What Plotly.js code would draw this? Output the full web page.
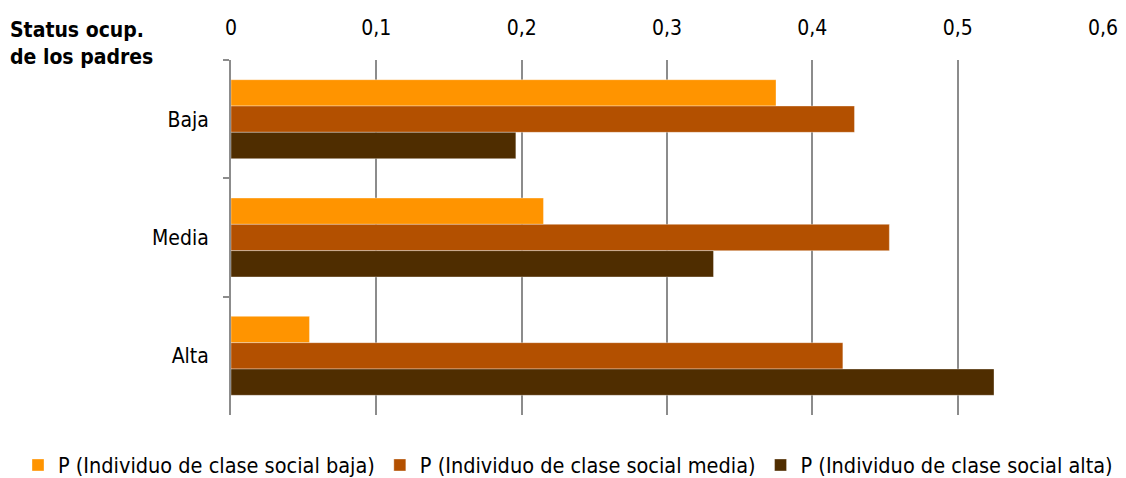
<!DOCTYPE html>
<html><head><meta charset="utf-8">
<script src="https://cdn.plot.ly/plotly-3.0.1.min.js"></script>
<style>body{margin:0;background:#fff}#c{width:1126px;height:478px}</style>
</head><body><div id="c"></div>
<script>
const categories = ["Baja", "Media", "Alta"];
const seriesNames = ["P (Individuo de clase social baja)", "P (Individuo de clase social media)", "P (Individuo de clase social alta)"];
const valBaja = [0.375, 0.215, 0.054];
const valMedia = [0.429, 0.453, 0.421];
const valAlta = [0.196, 0.332, 0.525];
const colors = ["#FF9400", "#B35000", "#4F2D00"];
const xTicks = [0, 0.1, 0.2, 0.3, 0.4, 0.5, 0.6];

const FONT = "'Liberation Sans Narrow', 'DejaVu Sans Condensed', 'Liberation Sans', Arial, sans-serif";
const allVals = [valBaja, valMedia, valAlta];
const traces = allVals.map((v, i) => ({
  type: "bar", orientation: "h", name: seriesNames[i],
  y: categories, x: v,
  marker: {color: colors[i], line: {color: "rgba(255,255,255,0.35)", width: 1}}
}));
const W = 872, H = 355;
const layout = {
  width: 1126, height: 478,
  margin: {l: 231, r: 23, t: 60, b: 63, autoexpand: false},
  separators: ", ",
  font: {family: FONT, size: 21, color: "#000"},
  barmode: "group", bargap: 0.333, bargroupgap: 0,
  showlegend: true,
  legend: {orientation: "h", xref: "paper", x: (18 - 231) / W, xanchor: "left", yref: "paper", y: -(465 - 415) / H, yanchor: "middle",
           traceorder: "normal", font: {size: 21.5}, itemwidth: 30},
  xaxis: {side: "top", range: [0, 0.6], tickvals: xTicks, showgrid: true, gridcolor: "#8c8c8c", gridwidth: 2,
          zeroline: false, showline: false, ticks: "", ticklabelstandoff: 20, fixedrange: true},
  yaxis: {autorange: "reversed", showline: true, linecolor: "#8c8c8c", linewidth: 2, ticks: "outside",
          tickson: "boundaries", ticklen: 6, tickcolor: "#8c8c8c", tickwidth: 2, ticklabelstandoff: 16, showgrid: false},
  annotations: [{xref: "paper", yref: "paper", x: (8 - 231) / W, xanchor: "left", y: 1 + 17 / H, yanchor: "middle",
    text: "<b>Status ocup.<br>de los padres</b>", showarrow: false, align: "left", font: {size: 21}}],
  plot_bgcolor: "#fff", paper_bgcolor: "#fff"
};
Plotly.newPlot("c", traces, layout, {displayModeBar: false, staticPlot: true});
</script></body></html>
